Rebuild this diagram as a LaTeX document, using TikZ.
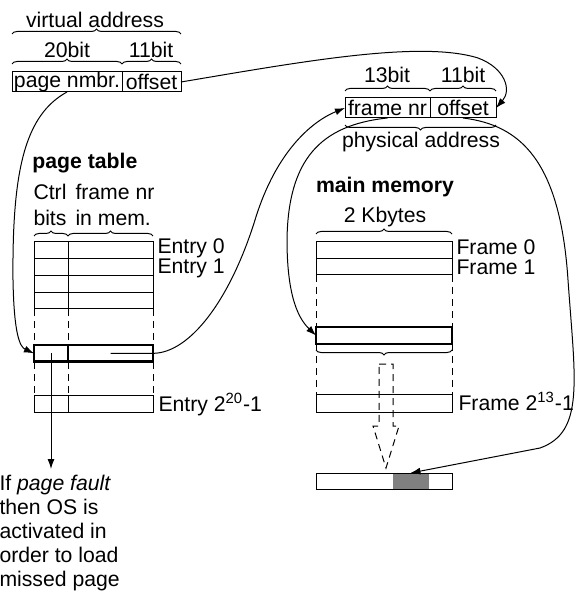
\documentclass[tikz,border=0pt]{standalone}
\usepackage{fontspec}
\setmainfont{Liberation Sans}
\usetikzlibrary{arrows.meta,decorations.pathreplacing}
\tikzset{
  txt/.style={inner sep=0pt, font=\fontsize{10.6}{12.25}\selectfont},
  hdr/.style={txt, font=\fontsize{10.6}{12.25}\selectfont\bfseries},
  side/.style={txt, anchor=base west, text depth=0pt},
  cell/.style={draw, txt, anchor=north west, outer sep=0pt, minimum height=8.35pt},
  selcell/.style={cell, line width=1.4pt},
  rail/.style={dash pattern=on 3.5pt off 2.5pt},
  brc/.style={decorate, decoration={brace, amplitude=2.5pt}},
  ptr/.style={-{Latex[length=5pt,width=3.5pt]}},
}
\begin{document}
\begin{tikzpicture}[x=0.5pt, y=-0.5pt, line width=0.5pt]
        \useasboundingbox (0,0) rectangle (585,592);
        % virtual address
        \node[cell, minimum width=55pt, minimum height=10pt] (vpage) at (12,72) {page nmbr.};
        \node[cell, minimum width=29.5pt, minimum height=10pt] (voff) at (122,72) {offset};
        \draw[brc] (12,64) -- (122,64);
        \draw[brc] (122,64) -- (181,64);
        \draw[brc] (12,34) -- (181,34);
        \node[txt] (vlbl) at (95,20) {virtual address};
        \node[txt] (vpbits) at (67,50) {20bit};
        \node[txt] (vobits) at (151,50) {11bit};
        % physical address
        \node[cell, minimum width=42.5pt, minimum height=10pt] (pfr) at (345,98) {frame nr};
        \node[cell, minimum width=33pt, minimum height=10pt] (poff) at (430,98) {offset};
        \draw[brc] (345,91) -- (430,91);
        \draw[brc] (430,91) -- (496,91);
        \draw[brc] (496,125) -- (345,125);
        \node[txt] (pfbits) at (387,75) {13bit};
        \node[txt] (pobits) at (463,75) {11bit};
        \node[txt] (plbl) at (421,142) {physical address};
        % page table
        \node[hdr, anchor=west] (pthdr) at (32,163) {page table};
        \node[txt, anchor=west, align=left, font=\fontsize{10.6}{13}\selectfont] (ctrl) at (33,205) {Ctrl\\bits};
        \node[txt, anchor=west, align=left, font=\fontsize{10.6}{13}\selectfont] (fnr) at (75,205) {frame nr\\in mem.};
        \draw[brc] (34,236) -- (68,236);
        \draw[brc] (68,236) -- (153,236);
        \foreach \i in {0,...,3} {
          \node[cell, minimum width=17pt] (c\i) at (34,{242+16.7*\i}) {};
          \node[cell, minimum width=42.5pt] (f\i) at (68,{242+16.7*\i}) {};
        }
        \foreach \x in {34,68,153} {
          \draw[rail] (\x,309) -- (\x,345);
          \draw[rail] (\x,362) -- (\x,395);
        }
        \node[selcell, minimum width=17pt] (pte) at (34,345) {};
        \node[selcell, minimum width=42.5pt] (ptf) at (68,345) {};
        \node[cell, minimum width=17pt, minimum height=8.5pt] (cl) at (34,395) {};
        \node[cell, minimum width=42.5pt, minimum height=8.5pt] (fl) at (68,395) {};
        \node[side] (e0) at (157,254) {Entry 0};
        \node[side] (e1) at (157,274) {Entry 1};
        \node[side] (el) at (158,411) {Entry 2\textsuperscript{20}-1};
        % page fault
        \node[txt, anchor=north west, align=left, font=\fontsize{10.6}{11.9}\selectfont] (fault) at (-1,475)
          {If \textit{page fault}\\then OS is\\activated in\\order to load\\missed page};
        \draw[ptr, shorten >=3pt] (pte.center) -- (pte.center |- fault.north);
        % main memory
        \node[hdr] (mmhdr) at (385,187) {main memory};
        \node[txt] (kb) at (385,217) {2 Kbytes};
        \draw[brc] (316,234) -- (452,234);
        \node[cell, minimum width=68pt, minimum height=8.25pt] (fr0) at (316,242) {};
        \node[cell, minimum width=68pt, minimum height=8.25pt] (fr1) at (316,258.5) {};
        \foreach \x in {316,452} {
          \draw[rail] (\x,275) -- (\x,327);
          \draw[rail] (\x,344) -- (\x,394);
        }
        \node[selcell, minimum width=68pt, minimum height=8.5pt] (frsel) at (316,327) {};
        \draw[brc] (452,350) -- (316,350);
        \node[cell, minimum width=68pt, minimum height=9pt] (frl) at (316,394) {};
        \node[side] (m0) at (456,255) {Frame 0};
        \node[side] (m1) at (456,275) {Frame 1};
        \node[side] (ml) at (458,410) {Frame 2\textsuperscript{13}-1};
        % copy arrow
        \draw[rail] (379,364) -- (393,364) -- (393,426) -- (399,426) -- (386,468)
          -- (373,426) -- (379,426) -- cycle;
        \node[cell, fill=gray, draw=gray, minimum width=17.5pt, minimum height=8pt] (pg) at (393,473) {};
        \node[cell, minimum width=68pt, minimum height=8pt] (buf) at (316,473) {};
        % pointers
        \draw[ptr] (voff.east) .. controls (300,62) and (420,40) .. (478,58)
          .. controls (505,68) and (512,90) .. (poff.east);
        \draw[ptr] (vpage.south) .. controls (25,115) and (12,170) .. (13,280)
          .. controls (14,335) and (20,347) .. (pte.west);
        \draw[ptr] (ptf.center) -- (ptf.east) .. controls (190,353) and (230,300) .. (255,220)
          .. controls (277,148) and (315,120) .. (pfr.west);
        \draw[ptr] (pfr.south) .. controls (320,125) and (288,160) .. (287,240)
          .. controls (287,300) and (300,320) .. (frsel.west);
        \draw[ptr] (poff.south) .. controls (520,125) and (560,160) .. (568,280)
          .. controls (575,380) and (585,432) .. (540,448) -- (pg.north);
\end{tikzpicture}
\end{document}
